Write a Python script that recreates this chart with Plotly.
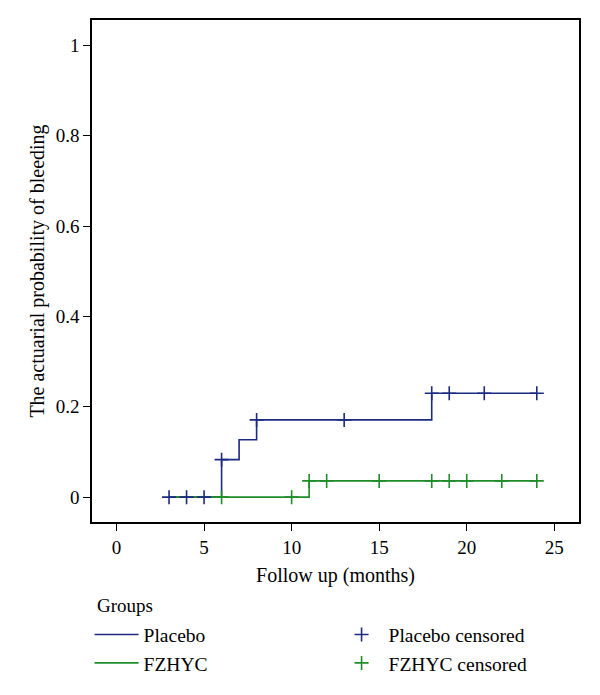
import plotly.graph_objects as go

# Step curves (actuarial probability of bleeding)
placebo_x = [3, 6, 7, 8, 18, 24]
placebo_y = [0, 0.083, 0.127, 0.171, 0.23, 0.23]
fzhyc_x = [3, 11, 24]
fzhyc_y = [0, 0.036, 0.036]

# Censored observations
placebo_cens_x = [3, 4, 5, 6, 8, 13, 18, 19, 21, 24]
placebo_cens_y = [0, 0, 0, 0.083, 0.171, 0.171, 0.23, 0.23, 0.23, 0.23]
fzhyc_cens_x = [6, 10, 11, 12, 15, 18, 19, 20, 22, 24]
fzhyc_cens_y = [0, 0, 0.036, 0.036, 0.036, 0.036, 0.036, 0.036, 0.036, 0.036]

x_ticks = [0, 5, 10, 15, 20, 25]
y_ticks = [0, 0.2, 0.4, 0.6, 0.8, 1]
y_tick_text = ["0", "0.2", "0.4", "0.6", "0.8", "1"]

BLUE = "#1c2a80"
GREEN = "#1e8c28"
FONT = "Liberation Serif"
FS = 20

fig = go.Figure()
fig.add_trace(go.Scatter(x=placebo_x, y=placebo_y, mode="lines", line_shape="hv",
                         line=dict(color=BLUE, width=1.6), name="Placebo", legendrank=1))
fig.add_trace(go.Scatter(x=fzhyc_x, y=fzhyc_y, mode="lines", line_shape="hv",
                         line=dict(color=GREEN, width=1.6), name="FZHYC", legendrank=3))
fig.add_trace(go.Scatter(x=placebo_cens_x, y=placebo_cens_y, mode="markers",
                         marker=dict(symbol="cross-thin", size=10, line=dict(color=BLUE, width=1.6)),
                         name="Placebo censored", legendrank=2))
fig.add_trace(go.Scatter(x=fzhyc_cens_x, y=fzhyc_cens_y, mode="markers",
                         marker=dict(symbol="cross-thin", size=10, line=dict(color=GREEN, width=1.6)),
                         name="FZHYC censored", legendrank=4))

axis_common = dict(showline=True, linecolor="black", linewidth=1.5, mirror=True,
                   ticks="outside", ticklen=7, tickwidth=1.3, tickcolor="black",
                   showgrid=False, zeroline=False, automargin=False,
                   tickfont=dict(family=FONT, size=FS - 1, color="black"))

fig.update_xaxes(range=[-1.4, 26.41], tickvals=x_ticks,
                 title=dict(text="Follow up (months)", font=dict(family=FONT, size=FS, color="black"), standoff=11),
                 **axis_common)
fig.update_yaxes(range=[-0.055, 1.056], tickvals=y_ticks, ticktext=y_tick_text,
                 title=dict(text="The actuarial probability of bleeding", font=dict(family=FONT, size=FS, color="black"), standoff=6),
                 **axis_common)

fig.add_annotation(text="Groups", xref="paper", yref="paper", x=0.007, y=-0.166,
                   xanchor="left", yanchor="middle", showarrow=False,
                   font=dict(family=FONT, size=FS - 1, color="black"))

fig.update_layout(
    width=600, height=695,
    margin=dict(l=92, r=21, t=20, b=173, autoexpand=False),
    plot_bgcolor="white", paper_bgcolor="white",
    font=dict(family=FONT, size=FS, color="black"),
    legend=dict(orientation="h", x=-0.005, xanchor="left", y=-0.186, yanchor="top",
                entrywidth=186, entrywidthmode="pixels", tracegroupgap=0,
                font=dict(family=FONT, size=FS - 0.5, color="black"), itemwidth=44),
)

fig.write_html("out.html", config={"displayModeBar": False},
               post_script="document.body.style.margin='0';document.body.style.overflow='hidden';")
